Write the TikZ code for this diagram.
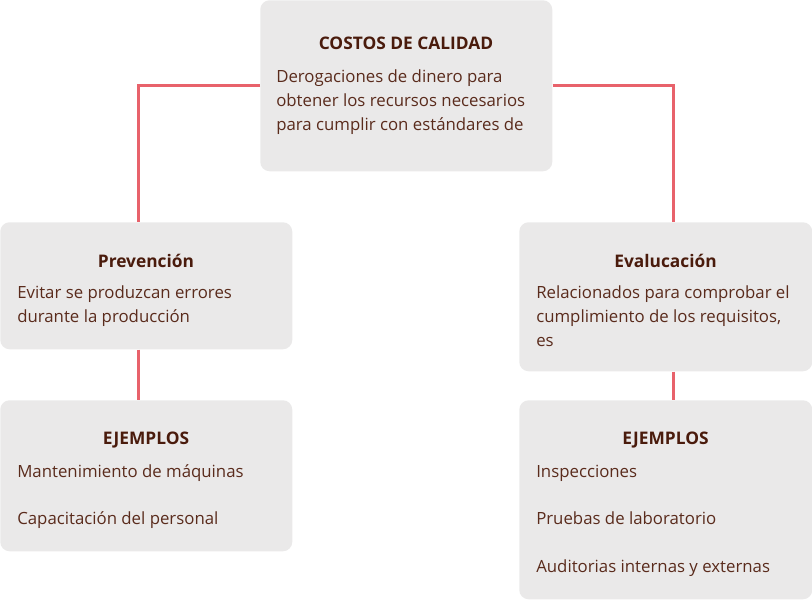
\documentclass[tikz,border=0pt]{standalone}
\usepackage{fontspec}
\setmainfont{Open Sans}
\definecolor{boxfill}{HTML}{EAE9E9}
\definecolor{linkred}{HTML}{E8626B}
\definecolor{titlecol}{HTML}{4A1B0C}
\definecolor{bodycol}{HTML}{5A2B1C}
\tikzset{
  card/.style={fill=boxfill, draw=none, rounded corners=7pt, anchor=north west, inner sep=0pt},
  conn/.style={draw=linkred, line width=2pt},
  ttl/.style={font=\fontsize{13pt}{15pt}\selectfont\bfseries, text=titlecol, anchor=base, inner sep=0pt},
  txt/.style={font=\fontsize{12.6pt}{15pt}\selectfont, text=bodycol, anchor=base west, inner sep=0pt}
}
\begin{document}
\begin{tikzpicture}[x=0.75pt, y=-0.75pt]
\useasboundingbox (0,0) rectangle (812,600);
% boxes
\node[card, minimum width=219pt, minimum height=128.25pt] (top) at (260,0) {};
\node[card, minimum width=219pt, minimum height=95.25pt] (prev) at (0,222) {};
\node[card, minimum width=219.75pt, minimum height=111.75pt] (eval) at (519,222) {};
\node[card, minimum width=219pt, minimum height=113.25pt] (ejl) at (0,400) {};
\node[card, minimum width=219.75pt, minimum height=149.25pt] (ejr) at (519,400) {};
% connectors
\draw[conn] (top.west) -| ([xshift=-6pt]prev.north);
\draw[conn] (top.east) -| ([xshift=5.6pt]eval.north);
\draw[conn] ([xshift=-6pt]prev.south) -- ([xshift=-6pt]ejl.north);
\draw[conn] ([xshift=5.6pt]eval.south) -- ([xshift=5.6pt]ejr.north);
% top text
\node[ttl] (t0) at (406,49) {COSTOS DE CALIDAD};
\node[txt] (t1) at (276,82) {Derogaciones de dinero para};
\node[txt] (t2) at (276,106) {obtener los recursos necesarios};
\node[txt] (t3) at (276,130) {para cumplir con estándares de};
% prevencion
\node[ttl] (p0) at (146,267) {Prevención};
\node[txt] (p1) at (17,298) {Evitar se produzcan errores};
\node[txt] (p2) at (17,322) {durante la producción};
% evaluacion
\node[ttl] (e0) at (665.5,267) {Evalucación};
\node[txt] (e1) at (536,298) {Relacionados para comprobar el};
\node[txt] (e2) at (536,322) {cumplimiento de los requisitos,};
\node[txt] (e3) at (536,346) {es};
% ejemplos left
\node[ttl] (l0) at (146,444) {EJEMPLOS};
\node[txt] (l1) at (17,477) {Mantenimiento de máquinas};
\node[txt] (l2) at (17,524) {Capacitación del personal};
% ejemplos right
\node[ttl] (r0) at (665.5,444) {EJEMPLOS};
\node[txt] (r1) at (536,477) {Inspecciones};
\node[txt] (r2) at (536,524) {Pruebas de laboratorio};
\node[txt] (r3) at (536,572) {Auditorias internas y externas};
\end{tikzpicture}
\end{document}
